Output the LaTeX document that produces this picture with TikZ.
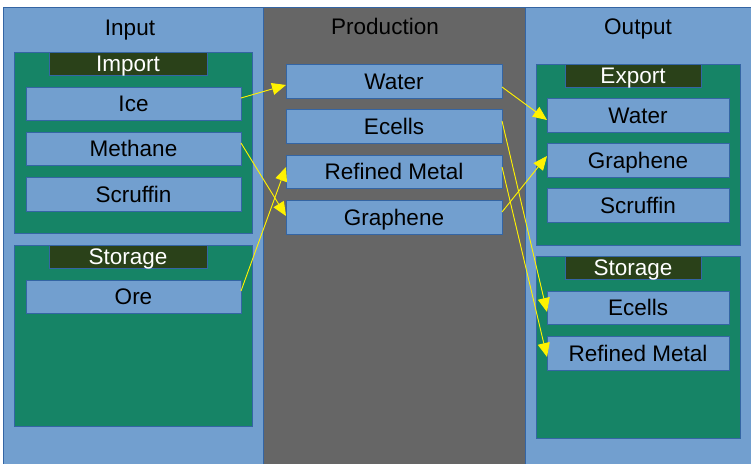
\documentclass[tikz,border=0pt]{standalone}
\usepackage{fontspec}
\setmainfont{Liberation Sans}
\usetikzlibrary{arrows.meta}
\definecolor{panelblue}{HTML}{729FCF}
\definecolor{edgeblue}{HTML}{3465A4}
\definecolor{tealgrp}{HTML}{168466}
\definecolor{hdrgreen}{HTML}{2A4119}
\definecolor{prodgray}{HTML}{666666}
\newcommand\mkbox[7]{\node[#6, minimum width={#4-#2}, minimum height={#5-#3}] (#1) at ({(#2+#4)/2},{(#3+#5)/2}) {#7};}
\begin{document}
\begin{tikzpicture}[x=1pt,y=-1pt,
  base/.style={rectangle, inner sep=0pt, outer sep=0pt, draw=edgeblue, line width=1pt,
    font=\fontsize{22.5}{25}\selectfont, text height=16.1pt, text depth=0pt},
  panel/.style={base},
  grp/.style={base, fill=tealgrp},
  hdr/.style={base, fill=hdrgreen, text=white},
  item/.style={base, fill=panelblue, text=black},
  ttl/.style={inner sep=0pt, font=\fontsize{22.5}{25}\selectfont, text height=16.1pt, text depth=0pt, text=black},
  flow/.style={draw=yellow, line width=0.9pt, -{Triangle[length=14pt,width=12pt]}, fill=yellow}
]
\fill[white] (0,0) rectangle (751,463);
\useasboundingbox (0,0) rectangle (751,463);
% panels
\mkbox{inpanel}{3}{7}{263}{472}{panel, fill=panelblue}{}
\mkbox{prodpanel}{263}{7}{525}{472}{panel, fill=prodgray}{}
\mkbox{outpanel}{525}{7}{762}{472}{panel, fill=panelblue}{}
\node[ttl] (tin) at (130,27) {Input};
\node[ttl] (tprod) at (385,26) {Production};
\node[ttl] (tout) at (638,26) {Output};
% input side
\mkbox{gimport}{14}{52}{252}{233}{grp}{}
\mkbox{himport}{49}{52}{207}{75}{hdr}{Import}
\mkbox{ice}{26}{87}{241}{120}{item}{Ice}
\mkbox{methane}{26}{132}{241}{165}{item}{Methane}
\mkbox{scruffin}{26}{177}{241}{211}{item}{Scruffin}
\mkbox{gstorl}{14}{245}{252}{426}{grp}{}
\mkbox{hstorl}{49}{245}{207}{268}{hdr}{Storage}
\mkbox{ore}{26}{280}{241}{313}{item}{Ore}
% production
\mkbox{pwater}{286}{64}{502}{98}{item}{Water}
\mkbox{pecells}{286}{109}{502}{143}{item}{Ecells}
\mkbox{prefined}{286}{155}{502}{188}{item}{Refined Metal}
\mkbox{pgraph}{286}{200}{502}{234}{item}{Graphene}
% output side
\mkbox{gexport}{536}{64}{740}{245}{grp}{}
\mkbox{hexport}{565}{64}{701}{87}{hdr}{Export}
\mkbox{ewater}{547}{98}{729}{132}{item}{Water}
\mkbox{egraph}{547}{143}{729}{177}{item}{Graphene}
\mkbox{escruffin}{547}{188}{729}{222}{item}{Scruffin}
\mkbox{gstorr}{536}{256}{740}{438}{grp}{}
\mkbox{hstorr}{565}{256}{701}{279}{hdr}{Storage}
\mkbox{secells}{547}{291}{729}{324}{item}{Ecells}
\mkbox{srefined}{547}{336}{729}{370}{item}{Refined Metal}
% flows
\draw[flow] ([yshift=5.5pt]ice.east) -- ([yshift=-4pt]pwater.west);
\draw[flow] ([yshift=5.5pt]methane.east) -- ([yshift=1pt]pgraph.west);
\draw[flow] ([yshift=5.5pt]ore.east) -- ([yshift=4.5pt]prefined.west);
\draw[flow] ([yshift=-6pt]pwater.east) -- ([yshift=-5pt]ewater.west);
\draw[flow] ([yshift=5pt]pecells.east) -- ([yshift=-4.5pt]secells.west);
\draw[flow] ([yshift=4.5pt]prefined.east) -- ([yshift=-4pt]srefined.west);
\draw[flow] ([yshift=5pt]pgraph.east) -- ([yshift=4pt]egraph.west);
\end{tikzpicture}
\end{document}
